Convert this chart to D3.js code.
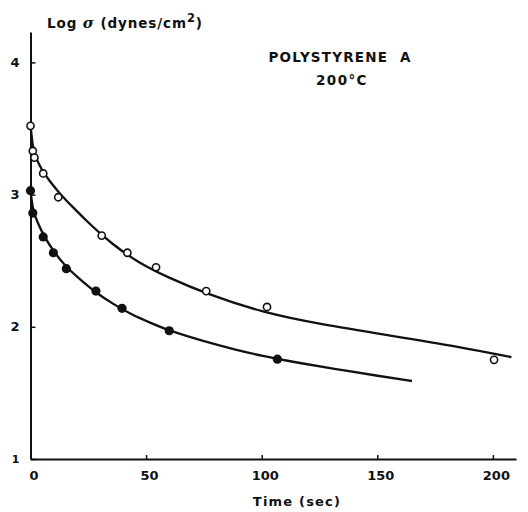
<!DOCTYPE html>
<html>
<head>
<meta charset="utf-8">
<script src="https://cdn.jsdelivr.net/npm/d3@7"></script>
<style>
  body { margin: 0; background: #fff; }
  text { font-family: "DejaVu Sans", "Liberation Sans", sans-serif; fill: #111; }
</style>
</head>
<body>
<svg width="528" height="512"></svg>
<script>
// open circles (upper) and filled circles (lower), log stress vs time
const openTime = [0, 1, 1.7, 5.5, 12, 30.8, 41.9, 54.3, 76, 102.3, 200.5];
const openLog = [3.52, 3.33, 3.28, 3.16, 2.98, 2.69, 2.56, 2.45, 2.27, 2.15, 1.75];
const filledTime = [0, 1, 5.5, 9.9, 15.5, 28.3, 39.6, 60, 106.8];
const filledLog = [3.03, 2.86, 2.68, 2.56, 2.44, 2.27, 2.14, 1.97, 1.755];

// fitted curves
const upperCurveTime = [0, 1, 2, 5, 8, 12, 18, 26, 35, 47, 60, 76, 100, 125, 157, 185, 208];
const upperCurveLog = [3.52, 3.36, 3.29, 3.18, 3.11, 3.02, 2.91, 2.77, 2.63, 2.48, 2.37, 2.25, 2.11, 2.02, 1.93, 1.85, 1.77];
const lowerCurveTime = [0, 1, 3, 6, 10, 15, 20, 28, 36, 44, 52, 60, 75, 88, 100, 115, 132, 150, 165];
const lowerCurveLog = [3.03, 2.88, 2.79, 2.68, 2.57, 2.46, 2.38, 2.26, 2.17, 2.09, 2.03, 1.97, 1.89, 1.83, 1.78, 1.73, 1.68, 1.63, 1.59];

const xTicks = [0, 50, 100, 150, 200];
const yTicks = [1, 2, 3, 4];

const svg = d3.select('svg'),
  margin = { top: 32, right: 12, bottom: 53, left: 30.5 },
  width = svg.attr('width') - margin.left - margin.right,
  height = svg.attr('height') - margin.top - margin.bottom,
  g = svg.append('g').attr('transform', 'translate(' + margin.left + ',' + margin.top + ')');

const x = d3.scaleLinear().domain([0, 210]).range([0, width]);
const y = d3.scaleLinear().domain([1, 4.23]).range([height, 0]);

const xAxis = g.append('g')
  .attr('transform', 'translate(0,' + height + ')')
  .call(d3.axisBottom(x).tickValues(xTicks).tickSizeInner(-4).tickSizeOuter(0).tickPadding(12));
const yAxis = g.append('g')
  .call(d3.axisLeft(y).tickValues(yTicks).tickFormat(d3.format('d')).tickSizeInner(-5).tickSizeOuter(0).tickPadding(10));

[xAxis, yAxis].forEach(a => {
  a.select('.domain').attr('stroke', '#111').attr('stroke-width', 2);
  a.selectAll('.tick line').attr('stroke', '#111').attr('stroke-width', 1.5);
  a.selectAll('.tick text')
    .style('font-family', '"DejaVu Sans", sans-serif')
    .style('font-weight', 'bold')
    .style('font-size', '13px')
    .attr('fill', '#111');
});
xAxis.selectAll('.tick text').attr('dx', 3);
yAxis.selectAll('.tick text').attr('dx', -1);
yAxis.selectAll('.tick').filter(d => d === 1).select('text').style('font-size', '11px');

const line = d3.line()
  .curve(d3.curveBasis)
  .x(d => x(d[0]))
  .y(d => y(d[1]));

g.append('path')
  .datum(d3.zip(upperCurveTime, upperCurveLog))
  .attr('d', line)
  .attr('fill', 'none')
  .attr('stroke', '#111')
  .attr('stroke-width', 2.3);

g.append('path')
  .datum(d3.zip(lowerCurveTime, lowerCurveLog))
  .attr('d', line)
  .attr('fill', 'none')
  .attr('stroke', '#111')
  .attr('stroke-width', 2.3);

g.selectAll('.open')
  .data(d3.zip(openTime, openLog))
  .enter().append('circle')
  .attr('class', 'open')
  .attr('cx', d => x(d[0]))
  .attr('cy', d => y(d[1]))
  .attr('r', 3.6)
  .attr('fill', '#fff')
  .attr('stroke', '#111')
  .attr('stroke-width', 1.6);

g.selectAll('.filled')
  .data(d3.zip(filledTime, filledLog))
  .enter().append('circle')
  .attr('class', 'filled')
  .attr('cx', d => x(d[0]))
  .attr('cy', d => y(d[1]))
  .attr('r', 4.6)
  .attr('fill', '#111');

// y label
const yl = svg.append('text')
  .attr('x', 47)
  .attr('y', 28)
  .style('font-size', '13.5px')
  .style('font-weight', 'bold')
  .style('letter-spacing', '0.9px');
yl.append('tspan').text('Log ');
yl.append('tspan').text('σ').style('font-style', 'italic').style('font-family', '"DejaVu Serif", serif').style('font-size', '15px');
yl.append('tspan').text(' (dynes/cm');
yl.append('tspan').text('2').attr('dy', -6).style('font-size', '11.5px');
yl.append('tspan').text(')').attr('dy', 6);

svg.append('text')
  .attr('x', 297)
  .attr('y', 506)
  .attr('text-anchor', 'middle')
  .style('font-size', '13px')
  .style('font-weight', 'bold')
  .style('letter-spacing', '1.2px')
  .text('Time (sec)');

svg.append('text')
  .attr('x', 340)
  .attr('y', 62)
  .attr('text-anchor', 'middle')
  .style('font-size', '13.5px')
  .style('font-weight', 'bold')
  .style('letter-spacing', '1.2px')
  .text('POLYSTYRENE\u00a0\u00a0A');

svg.append('text')
  .attr('x', 342)
  .attr('y', 85)
  .attr('text-anchor', 'middle')
  .style('font-size', '13.5px')
  .style('font-weight', 'bold')
  .style('letter-spacing', '1.4px')
  .text('200°C');
</script>
</body>
</html>
